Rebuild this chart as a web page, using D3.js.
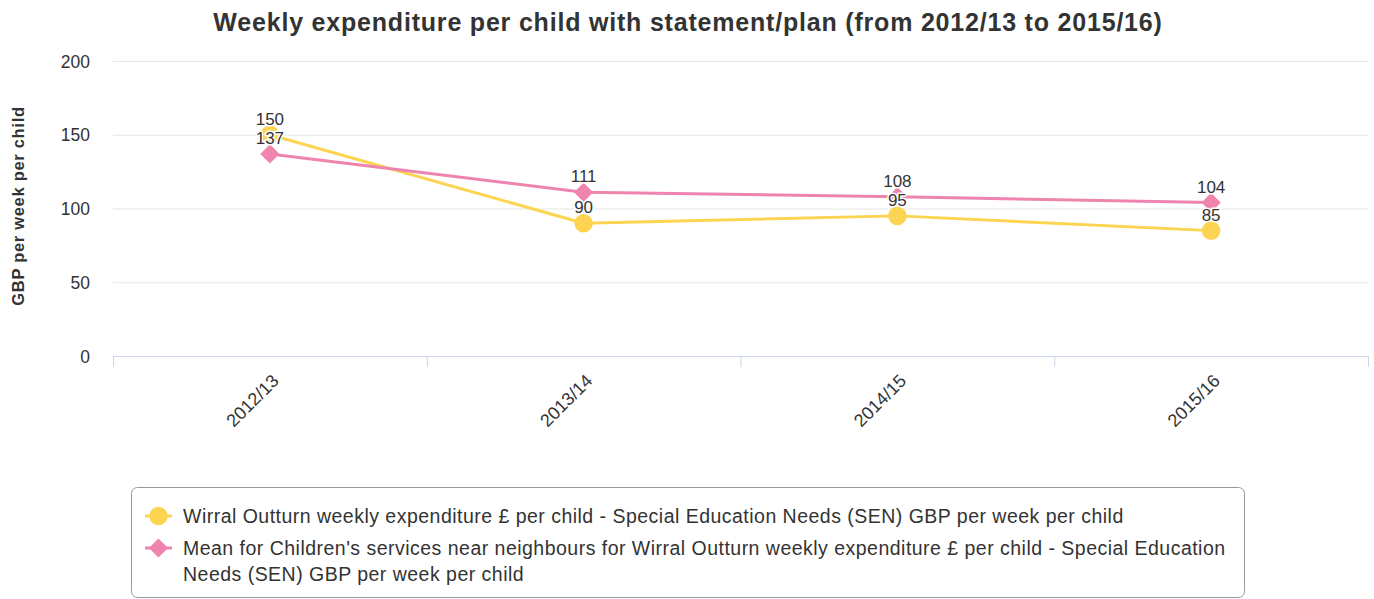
<!DOCTYPE html>
<html><head><meta charset="utf-8">
<script src="https://cdn.jsdelivr.net/npm/d3@7"></script>
<style>
html,body{margin:0;padding:0;background:#fff;}
svg{display:block;font-family:Arial,"Liberation Sans",Helvetica,sans-serif;}
</style></head>
<body>
<svg id="chart" width="1374" height="599"></svg>
<script>
const title = "Weekly expenditure per child with statement/plan (from 2012/13 to 2015/16)";
const yAxisTitle = "GBP per week per child";
const categories = ["2012/13", "2013/14", "2014/15", "2015/16"];
const yTicks = [0, 50, 100, 150, 200];
const wirralValues = [150, 90, 95, 85];
const neighbourValues = [137, 111, 108, 104];
const seriesNames = [
  "Wirral Outturn weekly expenditure £ per child - Special Education Needs (SEN) GBP per week per child",
  "Mean for Children's services near neighbours for Wirral Outturn weekly expenditure £ per child - Special Education Needs (SEN) GBP per week per child"
];
const seriesColors = ["#fdd451", "#ef84ae"];

const svg = d3.select("#chart");
const plotLeft = 113, plotRight = 1368, plotTop = 61, plotBottom = 356;

const x = d3.scaleBand().domain(categories).range([plotLeft, plotRight]).padding(0);
const y = d3.scaleLinear().domain([0, 200]).range([plotBottom, plotTop]);

// title
svg.append("text").attr("x", 688).attr("y", 31).attr("text-anchor", "middle")
  .attr("font-size", 25).attr("letter-spacing", 0.8).attr("font-weight", "bold").attr("fill", "#333").text(title);

// grid
svg.append("g").selectAll("line").data(yTicks.filter(d => d > 0)).join("line")
  .attr("x1", plotLeft).attr("x2", plotRight).attr("y1", d => y(d) + 0.5).attr("y2", d => y(d) + 0.5)
  .attr("stroke", "#e6e6e6").attr("stroke-width", 1);

// y axis labels
const yAxis = d3.axisLeft(y).tickValues(yTicks).tickSize(0).tickPadding(0);
const gy = svg.append("g").attr("transform", `translate(${plotLeft - 23},0)`).call(yAxis);
gy.attr("font-family", null);
gy.select(".domain").remove();
gy.selectAll("text").attr("font-size", 17.5).attr("fill", "#333").attr("dy", "0.35em");

// y axis title
svg.append("text").attr("transform", `translate(24,206) rotate(-90)`)
  .attr("text-anchor", "middle").attr("font-size", 16.5).attr("letter-spacing", 0.7).attr("font-weight", "bold")
  .attr("fill", "#333").text(yAxisTitle);

// x axis
const xAxis = d3.axisBottom(x).tickSize(0);
const gx = svg.append("g").attr("transform", `translate(0,${plotBottom})`).call(xAxis);
gx.attr("font-family", null);
gx.select(".domain").attr("stroke", "#ccd6eb").attr("stroke-width", 1)
  .attr("d", `M${plotLeft},0.5H${plotRight}`);
gx.selectAll("text").attr("font-size", 18).attr("fill", "#333")
  .attr("text-anchor", "end").attr("dy", null)
  .attr("transform", `translate(10,26) rotate(-45)`)
  .attr("y", 0).attr("x", 0);
// boundary ticks
const bounds = categories.map(c => x(c)).concat([plotRight]);
svg.append("g").selectAll("line").data(bounds).join("line")
  .attr("x1", d => d + 0.5).attr("x2", d => d + 0.5).attr("y1", plotBottom).attr("y2", plotBottom + 11)
  .attr("stroke", "#ccd6eb").attr("stroke-width", 1);

const cx = c => x(c) + x.bandwidth() / 2;
const circleSym = d3.symbol().type(d3.symbolCircle).size(270);
const diamondSym = d3.symbol().type(d3.symbolSquare).size(185);

function drawSeries(vals, color, shape) {
  const g = svg.append("g");
  const line = d3.line().x((d, i) => cx(categories[i])).y(d => y(d));
  g.append("path").datum(vals).attr("d", line).attr("fill", "none")
    .attr("stroke", color).attr("stroke-width", 3).attr("stroke-linejoin", "round");
  g.selectAll("path.m").data(vals).join("path").attr("class", "m")
    .attr("d", shape === "circle" ? circleSym : diamondSym)
    .attr("transform", (d, i) => `translate(${cx(categories[i])},${y(d)})` + (shape === "circle" ? "" : " rotate(45)"))
    .attr("fill", color);
  return g;
}
drawSeries(wirralValues, seriesColors[0], "circle");
drawSeries(neighbourValues, seriesColors[1], "diamond");

function labels(vals) {
  svg.append("g").selectAll("text").data(vals).join("text")
    .attr("x", (d, i) => cx(categories[i])).attr("y", d => y(d) - 10)
    .attr("text-anchor", "middle").attr("font-size", 17).attr("fill", "#333")
    .attr("stroke", "#fff").attr("stroke-width", 3).attr("paint-order", "stroke")
    .attr("stroke-linejoin", "round")
    .text(d => Math.round(d));
}
labels(wirralValues);
labels(neighbourValues);

// legend
svg.append("rect").attr("x", 131.5).attr("y", 487.5).attr("width", 1113).attr("height", 110)
  .attr("rx", 6).attr("ry", 6).attr("fill", "none").attr("stroke", "#999").attr("stroke-width", 1);

const legendY = [516, 548];
seriesNames.forEach((name, i) => {
  const ly = legendY[i];
  svg.append("line").attr("x1", 145).attr("x2", 172).attr("y1", ly).attr("y2", ly)
    .attr("stroke", seriesColors[i]).attr("stroke-width", 3);
  svg.append("path").attr("d", i === 0 ? circleSym : diamondSym)
    .attr("transform", `translate(158.5,${ly})` + (i === 0 ? "" : " rotate(45)"))
    .attr("fill", seriesColors[i]);
  const t = svg.append("text").attr("x", 183).attr("y", ly + 7).attr("font-size", 19.5)
    .attr("letter-spacing", 0.48).attr("fill", "#333");
  const words = name.split(" ");
  let lineWords = [], tspan = t.append("tspan").attr("x", 183).attr("dy", 0);
  words.forEach(w => {
    lineWords.push(w);
    tspan.text(lineWords.join(" "));
    if (tspan.node().getComputedTextLength() > 1060 && lineWords.length > 1) {
      lineWords.pop();
      tspan.text(lineWords.join(" "));
      lineWords = [w];
      tspan = t.append("tspan").attr("x", 183).attr("dy", 26).text(w);
    }
  });
});
</script>
</body></html>
